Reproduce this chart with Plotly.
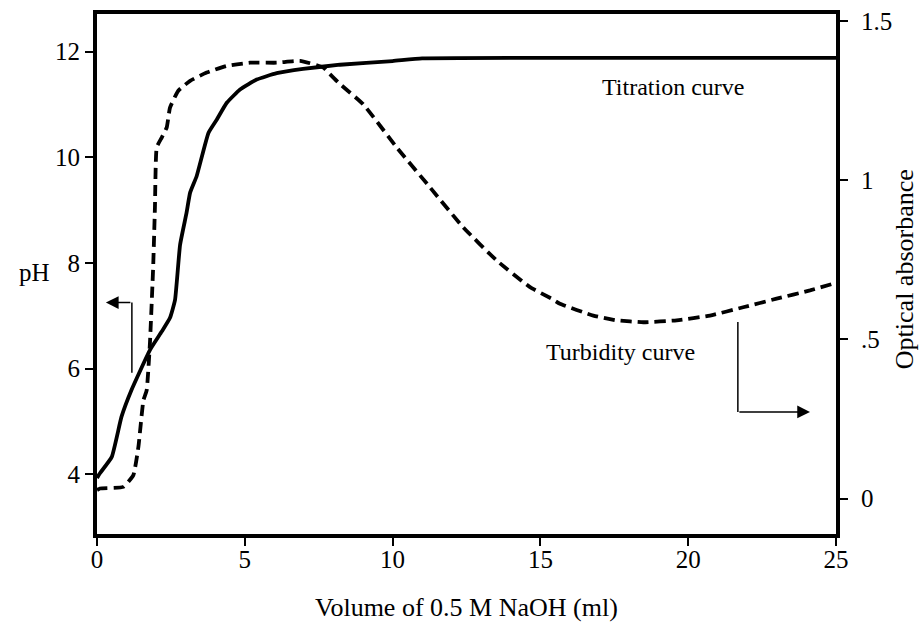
import plotly.graph_objects as go

# Titration curve (pH vs volume NaOH, ml)
titr_x = [0, 0.1, 0.5, 0.83, 1.17, 1.79, 2.19, 2.47, 2.64, 2.81, 3.03, 3.15, 3.37, 3.77,
          4.05, 4.39, 4.84, 5.4, 6.08, 6.97, 8.22, 10, 11, 15, 20, 25]
titr_ph = [3.93, 4.02, 4.33, 5.09, 5.60, 6.35, 6.70, 6.96, 7.30, 8.34, 8.95, 9.33, 9.64, 10.46,
           10.71, 11.03, 11.28, 11.47, 11.59, 11.67, 11.75, 11.82, 11.87, 11.88, 11.88, 11.88]

# Turbidity curve (optical absorbance vs volume NaOH, ml)
turb_x = [0, 0.1, 0.89, 1.23, 1.40, 1.57, 1.68, 1.79, 1.9, 1.96, 2.02, 2.19, 2.36, 2.47, 2.75,
          3.15, 3.71, 4.39, 5.18, 6.08, 6.87, 7.66, 7.88, 8.16, 9.0, 10.14, 11.27, 12.39,
          13.52, 14.65, 15.38, 15.66, 16.79, 17.58, 18.48, 19.61, 20.74, 21.86, 22.99, 24.12,
          24.9, 25]
turb_abs = [0.027, 0.032, 0.037, 0.074, 0.162, 0.309, 0.340, 0.487, 0.727, 0.915, 1.103, 1.134,
            1.166, 1.228, 1.281, 1.312, 1.338, 1.359, 1.369, 1.369, 1.375, 1.354, 1.333, 1.307,
            1.239, 1.103, 0.977, 0.852, 0.748, 0.664, 0.628, 0.612, 0.575, 0.560, 0.554, 0.560,
            0.575, 0.601, 0.628, 0.654, 0.675, 0.679]

x_ticks = [0, 5, 10, 15, 20, 25]
ph_ticks = [4, 6, 8, 10, 12]
abs_ticks = [0, 0.5, 1, 1.5]
abs_ticktext = ["0", ".5", "1", "1.5"]

FONT = "Liberation Serif, Times New Roman, serif"
TICK_SIZE = 25
TEXT_SIZE = 24

fig = go.Figure()
fig.add_trace(go.Scatter(x=titr_x, y=titr_ph, mode="lines",
                         line=dict(color="black", width=3.8, shape="spline", smoothing=0.4),
                         yaxis="y", showlegend=False))
fig.add_trace(go.Scatter(x=turb_x, y=turb_abs, mode="lines",
                         line=dict(color="black", width=3.8, dash="11px,6px", shape="spline", smoothing=0.4),
                         yaxis="y2", showlegend=False))

# Left arrow (pointing to pH axis)
fig.add_shape(type="line", x0=1.18, x1=1.18, y0=5.92, y1=7.25, xref="x", yref="y",
              line=dict(color="black", width=1.5))
fig.add_annotation(x=0.30, y=7.25, ax=1.18, ay=7.25, xref="x", yref="y", axref="x", ayref="y",
                   showarrow=True, arrowhead=2, arrowsize=1.7, arrowwidth=1.5, arrowcolor="black", text="")
# Right arrow (pointing to absorbance axis)
fig.add_shape(type="line", x0=21.68, x1=21.68, y0=5.18, y1=6.88, xref="x", yref="y",
              line=dict(color="black", width=1.5))
fig.add_annotation(x=24.12, y=5.18, ax=21.68, ay=5.18, xref="x", yref="y", axref="x", ayref="y",
                   showarrow=True, arrowhead=2, arrowsize=1.7, arrowwidth=1.5, arrowcolor="black", text="")

def label(text, x, y, size, angle=0):
    fig.add_annotation(text=text, x=x, y=y, xref="paper", yref="paper", showarrow=False,
                       xanchor="center", yanchor="middle", textangle=angle,
                       font=dict(family=FONT, size=size, color="black"))

label("Titration curve", 0.779, 0.86, TEXT_SIZE)
label("Turbidity curve", 0.709, 0.35, TEXT_SIZE)
label("pH", -0.0839, 0.503, TICK_SIZE)
label("Volume of 0.5 M NaOH (ml)", 0.5, -0.1404, 26)
label("Optical absorbance", 1.0925, 0.51, 26, angle=-90)

fig.update_layout(
    width=919, height=628,
    margin=dict(l=97, r=83, t=14, b=94),
    paper_bgcolor="white", plot_bgcolor="white",
    font=dict(family=FONT, size=TICK_SIZE, color="black"),
    xaxis=dict(range=[0, 25], tickvals=x_ticks, showline=True, linewidth=4, linecolor="black",
               mirror=True, ticks="outside", ticklen=8, tickwidth=2, tickcolor="black",
               ticklabelstandoff=-8,
               showgrid=False, zeroline=False, automargin=False,
               tickfont=dict(family=FONT, size=TICK_SIZE)),
    yaxis=dict(range=[2.87, 12.71], tickvals=ph_ticks, showline=True, linewidth=4, linecolor="black",
               ticks="outside", ticklen=8, tickwidth=2, tickcolor="black",
               showgrid=False, zeroline=False, automargin=False,
               tickfont=dict(family=FONT, size=TICK_SIZE)),
    yaxis2=dict(range=[-0.111, 1.522], tickvals=abs_ticks, ticktext=abs_ticktext, overlaying="y",
                side="right", showline=True, linewidth=4, linecolor="black",
                ticks="outside", ticklen=8, tickwidth=2, tickcolor="black", ticklabelstandoff=8,
                showgrid=False, zeroline=False, automargin=False,
                tickfont=dict(family=FONT, size=TICK_SIZE)),
)

fig.write_html("out.html", config={"displayModeBar": False})

# remove default browser body margin so the figure sits at the page origin
with open("out.html", "r", encoding="utf-8") as f:
    html = f.read()
html = html.replace("<body>", '<body style="margin:0;padding:0;">', 1)
with open("out.html", "w", encoding="utf-8") as f:
    f.write(html)
